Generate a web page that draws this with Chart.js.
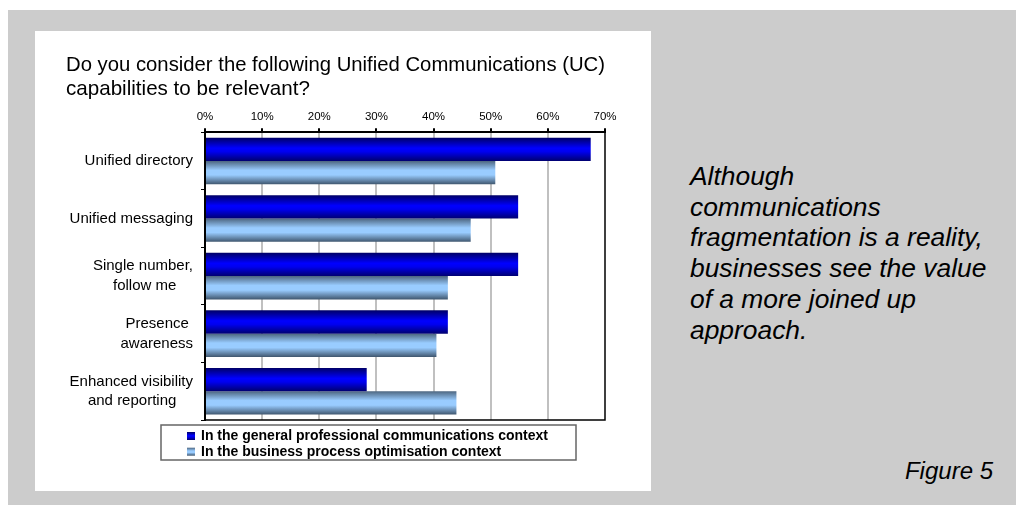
<!DOCTYPE html>
<html>
<head>
<meta charset="utf-8">
<script src="https://cdn.jsdelivr.net/npm/chart.js@4"></script>
<style>
  body { margin: 0; background: #fff; font-family: "Liberation Sans", Arial, sans-serif; }
  #panel { position: absolute; left: 8px; top: 10px; width: 1008px; height: 495px; background: #cccccc; }
  #card { position: absolute; left: 35px; top: 31px; width: 616px; height: 460px; background: #fff; }
  #note { position: absolute; left: 690px; top: 161px; font-size: 26.4px; font-style: italic; line-height: 30.7px; color: #000; white-space: nowrap; }
  #fig { position: absolute; right: 23px; top: 456px; font-size: 24px; font-style: italic; line-height: 30px; color: #000; }
</style>
</head>
<body>
<div id="panel"></div>
<div id="card"><canvas id="ucChart" width="616" height="460"></canvas></div>
<div id="note">Although<br>communications<br>fragmentation is a reality,<br>businesses see the value<br>of a more joined up<br>approach.</div>
<div id="fig">Figure 5</div>
<script>
const categories = ['Unified directory', 'Unified messaging', ['Single number,', 'follow me'], ['Presence', 'awareness'], ['Enhanced visibility', 'and reporting']];
const generalContext = [67.5, 54.8, 54.8, 42.5, 28.3];
const processContext = [50.8, 46.5, 42.5, 40.5, 44.0];
const seriesNames = ['In the general professional communications context', 'In the business process optimisation context'];
const xTicks = [0, 10, 20, 30, 40, 50, 60, 70];

const FONT = '"Liberation Sans", Arial, sans-serif';
const catPct = 0.81;
const darkStops = [[0, '#000066'], [0.45, '#0000ff'], [0.6, '#0000f0'], [1, '#000070']];
const lightStops = [[0, '#4d6680'], [0.4, '#99ccff'], [0.6, '#99ccff'], [1, '#3f566e']];

Chart.defaults.font.family = FONT;
Chart.defaults.color = '#000';

// vertical gradient across each bar, computed from the category scale
function barFill(stops, slot){
  return function(c){
    const ch = c.chart;
    const y = ch.scales && ch.scales.y;
    if (c.type !== 'data' || !ch.chartArea || !y) return stops[1][1];
    const center = y.getPixelForValue(c.dataIndex);
    const cat = Math.abs(y.getPixelForValue(1) - y.getPixelForValue(0));
    const th = cat * catPct / 2;
    const top = slot === 0 ? center - th : center;
    const g = ch.ctx.createLinearGradient(0, top, 0, top + th);
    stops.forEach(s => g.addColorStop(s[0], s[1]));
    return g;
  };
}

// centre the lines of a two-line label inside a right-aligned block
const measure = document.createElement('canvas').getContext('2d');
measure.font = '15px ' + FONT;
function padLines(label){
  if (!Array.isArray(label)) return label;
  const widths = label.map(l => measure.measureText(l).width);
  const max = Math.max(...widths);
  const sp = measure.measureText(' ').width;
  return label.map((l, i) => l + ' '.repeat(Math.round((max - widths[i]) / 2 / sp)));
}

const plotFrame = {
  id: 'plotFrame',
  afterDatasetsDraw(chart){
    const a = chart.chartArea, ctx = chart.ctx;
    ctx.save();
    ctx.strokeStyle = '#000';
    ctx.lineWidth = 1.5;
    ctx.beginPath();
    ctx.moveTo(a.right, a.top);
    ctx.lineTo(a.right, a.bottom);
    ctx.lineTo(a.left, a.bottom);
    ctx.stroke();
    ctx.restore();
  }
};

const boxLegend = {
  id: 'boxLegend',
  afterDraw(chart){
    const a = chart.chartArea, ctx = chart.ctx;
    const x0 = a.left - 44, y0 = a.bottom + 5, w = 415, h = 35;
    ctx.save();
    ctx.fillStyle = '#fff';
    ctx.fillRect(x0, y0, w, h);
    ctx.strokeStyle = '#666';
    ctx.lineWidth = 1.5;
    ctx.strokeRect(x0, y0, w, h);
    ctx.font = 'bold 14px ' + FONT;
    ctx.textBaseline = 'middle';
    chart.data.datasets.forEach((ds, i) => {
      const cy = y0 + 11 + i * 15.7;
      const sx = x0 + 26;
      const stops = i === 0 ? darkStops : lightStops;
      const g = ctx.createLinearGradient(0, cy - 4, 0, cy + 4);
      stops.forEach(s => g.addColorStop(s[0], s[1]));
      ctx.fillStyle = g;
      ctx.fillRect(sx, cy - 4, 8, 8);
      ctx.fillStyle = '#000';
      ctx.fillText(ds.label, sx + 14, cy + 0.5);
    });
    ctx.restore();
  }
};

new Chart(document.getElementById('ucChart'), {
  type: 'bar',
  data: {
    labels: categories,
    datasets: [
      { label: seriesNames[0], data: generalContext, backgroundColor: barFill(darkStops, 0) },
      { label: seriesNames[1], data: processContext, backgroundColor: barFill(lightStops, 1) }
    ]
  },
  options: {
    indexAxis: 'y',
    responsive: false,
    animation: false,
    categoryPercentage: catPct,
    barPercentage: 1,
    layout: { padding: { left: 31, right: 46, top: 10, bottom: 71 } },
    plugins: {
      legend: { display: false },
      tooltip: { enabled: false },
      title: {
        display: true,
        align: 'start',
        text: ['Do you consider the following Unified Communications (UC)', 'capabilities to be relevant?'],
        font: { size: 20.6, weight: 'normal', lineHeight: 1.17 },
        color: '#000',
        padding: { top: 12, bottom: 0 }
      }
    },
    scales: {
      x: {
        position: 'top',
        min: 0,
        max: 70,
        afterFit(s){ s.height = 31; },
        afterBuildTicks(s){ s.ticks = xTicks.map(v => ({ value: v })); },
        ticks: { font: { size: 11.5 }, padding: 4, callback: v => v + '%' },
        grid: {
          color: c => (c.index === 0 || c.index === xTicks.length - 1) ? 'rgba(0,0,0,0)' : '#c0c0c0',
          lineWidth: 2,
          tickColor: '#000',
          tickLength: 4
        },
        border: { color: '#000', width: 2 }
      },
      y: {
        afterFit(s){ s.width = 139; },
        ticks: {
          font: { size: 15, lineHeight: 1.3 },
          padding: 8,
          callback(v){ return padLines(this.getLabelForValue(v)); }
        },
        grid: { drawOnChartArea: false, tickColor: '#000', tickLength: 4 },
        border: { color: '#000', width: 2 }
      }
    }
  },
  plugins: [plotFrame, boxLegend]
});
</script>
</body>
</html>
